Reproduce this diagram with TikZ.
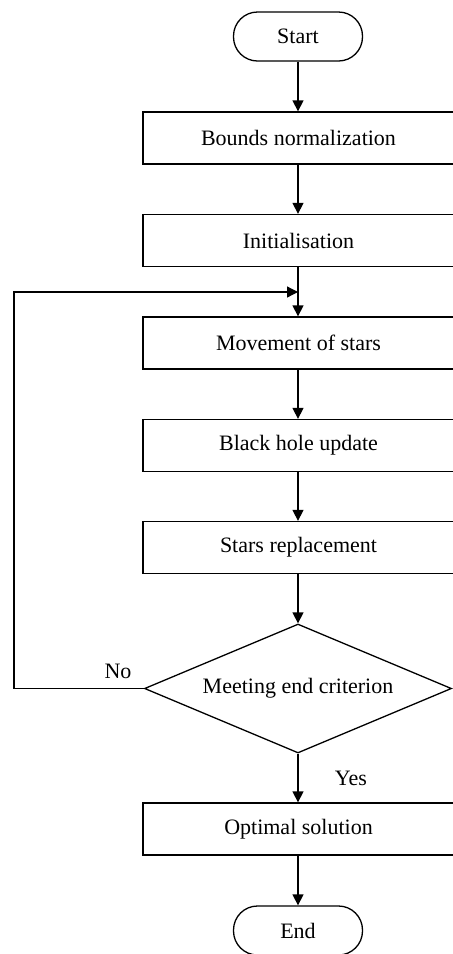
\documentclass[tikz,border=0pt]{standalone}
\usepackage{fontspec}
\setmainfont{Liberation Serif}
\usetikzlibrary{arrows.meta,shapes.geometric}
\begin{document}
\begin{tikzpicture}[x=0.5pt,y=-0.5pt,
  font=\fontsize{11}{13}\selectfont,
  line width=0.65pt,
  stepbox/.style={draw, minimum width=155.5pt, minimum height=26pt, inner sep=0pt},
  term/.style={draw, rounded corners=12pt, minimum width=64.5pt, minimum height=24.5pt, inner sep=0pt},
  decision/.style={draw, diamond, aspect=2.38, minimum width=153.5pt, minimum height=64.5pt, inner sep=0pt},
  arr/.style={-{Triangle[length=5.5pt,width=5.5pt]}},
  lbl/.style={inner sep=0pt}]
\useasboundingbox (0,0) rectangle (452,954);
\node[term] (start) at (298,36.5) {Start};
\node[stepbox] (bounds) at (298.5,138) {Bounds normalization};
\node[stepbox] (init) at (298.5,240.5) {Initialisation};
\node[stepbox] (move) at (298.5,343) {Movement of stars};
\node[stepbox] (bh) at (298.5,445.5) {Black hole update};
\node[stepbox] (repl) at (298.5,547.5) {Stars replacement};
\node[decision] (dec) at (298,688.5) {Meeting end criterion};
\node[stepbox] (opt) at (298.5,829) {Optimal solution};
\node[term] (end) at (298,930.5) {End};
\coordinate (loopjoin) at (298,292);
\coordinate (loopbl) at (14,688.5);
\coordinate (looptl) at (14,292);
\draw[arr] (start.south) -- (start.south |- bounds.north);
\draw[arr] (start.south |- bounds.south) -- (start.south |- init.north);
\draw[arr] (start.south |- init.south) -- (start.south |- move.north);
\draw[arr] (start.south |- move.south) -- (start.south |- bh.north);
\draw[arr] (start.south |- bh.south) -- (start.south |- repl.north);
\draw[arr] (start.south |- repl.south) -- (dec.north);
\draw[arr] (dec.south) -- (dec.south |- opt.north);
\draw[arr] (dec.south |- opt.south) -- (end.north);
\draw[arr] (dec.west) -- (loopbl) -- (looptl) -- (loopjoin);
\node[lbl] (no) at (118,671) {No};
\node[lbl] (yes) at (351,778) {Yes};
\end{tikzpicture}
\end{document}
